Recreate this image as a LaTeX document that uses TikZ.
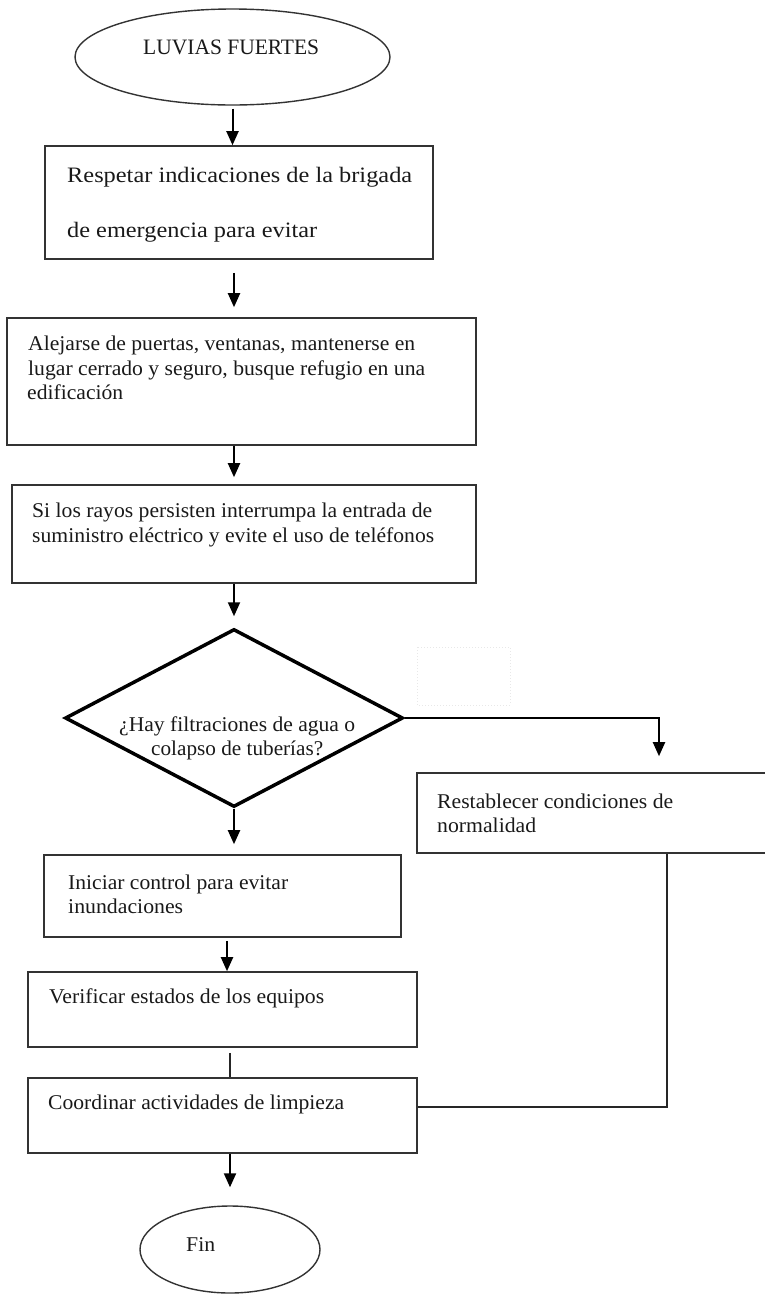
\documentclass[tikz,border=0pt]{standalone}
\usepackage{graphicx}
\usepackage{fontspec}
\setmainfont{Liberation Serif}
\usetikzlibrary{shapes.geometric,arrows.meta}
\newcommand\fitline[2]{\resizebox{#1pt}{\height}{#2}}
\tikzset{
  box/.style={draw=black!80, line width=1.6pt, rectangle, inner sep=0pt},
  oval/.style={draw=black!80, line width=1.4pt, ellipse, inner sep=0pt},
  txt/.style={anchor=base west, inner sep=0pt, text=black!90, font=\fontsize{21}{25}\selectfont},
  arr/.style={line width=2pt, -{Triangle[width=12pt,length=14pt]}},
  conn/.style={line width=1.6pt, draw=black!85},
}
\begin{document}
\begin{tikzpicture}[x=1pt,y=-1pt]
\useasboundingbox (0,0) rectangle (765,1294);
% shapes
\node[oval, minimum width=315pt, minimum height=96pt] (start) at (232.5,57) {};
\node[box, minimum width=388pt, minimum height=113pt] (box1) at (239,202.5) {};
\node[box, minimum width=469pt, minimum height=127pt] (box2) at (241.5,381.5) {};
\node[box, minimum width=464pt, minimum height=98pt] (box3) at (244,534) {};
\node[diamond, draw=black, line width=3.5pt, minimum width=338pt, minimum height=178pt, inner sep=0pt] (dia) at (234,718) {};
\node[box, minimum width=350pt, minimum height=80pt] (rest) at (592,813) {};
\node[box, minimum width=357pt, minimum height=82pt] (ini) at (222.5,896) {};
\node[box, minimum width=389pt, minimum height=75pt] (ver) at (222.5,1009.5) {};
\node[box, minimum width=389pt, minimum height=75pt] (coord) at (222.5,1115.5) {};
\node[oval, minimum width=180pt, minimum height=87pt] (fin) at (230,1249.5) {};
% faint artefact box
\draw[gray!18, dotted, line width=1pt] (417,647) rectangle (510,705);
% texts
\node[txt, font=\fontsize{22}{26}\selectfont] (t0) at (143,54) {\fitline{176}{LUVIAS FUERTES}};
\node[txt, font=\fontsize{22}{26}\selectfont] (t1a) at (67,182) {\fitline{345}{Respetar indicaciones de la brigada}};
\node[txt, font=\fontsize{22}{26}\selectfont] (t1b) at (67,237) {\fitline{250}{de emergencia para evitar}};
\node[txt] (t2a) at (28,350) {\fitline{387}{Alejarse de puertas, ventanas, mantenerse en}};
\node[txt] (t2b) at (28,375) {\fitline{397}{lugar cerrado y seguro, busque refugio en una}};
\node[txt] (t2c) at (27,399) {\fitline{96}{edificación}};
\node[txt] (t3a) at (32,517) {\fitline{400}{Si los rayos persisten interrumpa la entrada de}};
\node[txt] (t3b) at (32,542) {\fitline{402}{suministro eléctrico y evite el uso de teléfonos}};
\node[txt] (tda) at (119,731) {\fitline{236}{¿Hay filtraciones de agua o}};
\node[txt] (tdb) at (151,755) {\fitline{172}{colapso de tuberías?}};
\node[txt] (tra) at (437,808) {\fitline{236}{Restablecer condiciones de}};
\node[txt] (trb) at (437,832) {\fitline{99}{normalidad}};
\node[txt] (tia) at (68,889) {\fitline{220}{Iniciar control para evitar}};
\node[txt] (tib) at (68,913) {\fitline{115}{inundaciones}};
\node[txt] (tv) at (49,1003) {\fitline{275}{Verificar estados de los equipos}};
\node[txt] (tc) at (48,1109) {\fitline{296}{Coordinar actividades de limpieza}};
\node[txt] (tf) at (186,1251) {\fitline{29}{Fin}};
% connectors
\draw[arr, shorten <=3pt] (start.south) -- (start.south |- box1.north);
\draw[arr, shorten <=13pt, shorten >=10pt] (box1.south -| dia.north) -- (box2.north -| dia.north);
\draw[arr, shorten >=7pt] (box2.south -| dia.north) -- (box3.north -| dia.north);
\draw[arr, shorten >=11pt] (box3.south -| dia.north) -- (dia.north);
\draw[arr, shorten >=16pt] (dia.east) -| ([xshift=67pt]rest.north);
\draw[arr, shorten >=10pt] (dia.south) -- (dia.south |- ini.north);
\draw[arr, shorten <=3pt] ([xshift=4.5pt]ini.south) -- ([xshift=4.5pt]ini.south |- ver.north);
\draw[conn, shorten <=5pt] ([xshift=7.5pt]ver.south) -- ([xshift=7.5pt]coord.north);
\draw[arr, shorten >=18pt] ([xshift=7.5pt]coord.south) -- ([xshift=7.5pt]coord.south |- fin.north);
\draw[conn] ([xshift=75pt]rest.south) |- ([yshift=8.5pt]coord.east);
\end{tikzpicture}
\end{document}
